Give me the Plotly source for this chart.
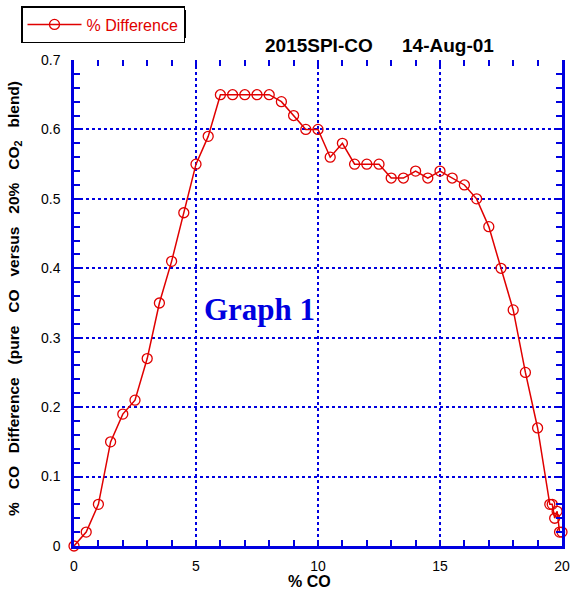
import plotly.graph_objects as go

# Data
pct_co = [0, 0.5, 1, 1.5, 2, 2.5, 3, 3.5, 4, 4.5, 5, 5.5, 6, 6.5, 7, 7.5, 8, 8.5,
          9, 9.5, 10, 10.5, 11, 11.5, 12, 12.5, 13, 13.5, 14, 14.5, 15, 15.5, 16,
          16.5, 17, 17.5, 18, 18.5, 19, 19.5, 19.6, 19.7, 19.8, 19.9, 20]
pct_diff = [0, 0.02, 0.06, 0.15, 0.19, 0.21, 0.27, 0.35, 0.41, 0.48, 0.55, 0.59,
            0.65, 0.65, 0.65, 0.65, 0.65, 0.64, 0.62, 0.60, 0.60, 0.56, 0.58, 0.55,
            0.55, 0.55, 0.53, 0.53, 0.54, 0.53, 0.54, 0.53, 0.52, 0.50, 0.46, 0.40,
            0.34, 0.25, 0.17, 0.06, 0.06, 0.04, 0.05, 0.02, 0.02]
x_ticks = [0, 5, 10, 15, 20]
y_ticks = [0, 0.1, 0.2, 0.3, 0.4, 0.5, 0.6, 0.7]
y_tick_labels = ["0", "0.1", "0.2", "0.3", "0.4", "0.5", "0.6", "0.7"]

BLUE = "#0000e0"
RED = "#e00000"
FONT = "Liberation Sans, Arial, sans-serif"

W, H = 572, 590
L, R, T, B = 74, 10, 60, 44
pw, ph = W - L - R, H - T - B

def px(xp):
    return (xp - L) / pw

def py(yp):
    return (H - B - yp) / ph

fig = go.Figure()
fig.add_trace(go.Scatter(
    x=pct_co, y=pct_diff, mode="lines+markers", name="% Difference",
    line=dict(color=RED, width=1.5),
    marker=dict(symbol="circle-open", size=10, color=RED, line=dict(width=1.3, color=RED)),
    cliponaxis=False,
))
# helper trace so the top tick axis is drawn
fig.add_trace(go.Scatter(x=[0], y=[0], xaxis="x2", mode="markers",
                         marker=dict(opacity=0), showlegend=False, hoverinfo="skip"))

axis_common = dict(
    showline=True, linecolor=BLUE, linewidth=2.5,
    ticks="inside", ticklen=6, tickwidth=1.5, tickcolor=BLUE,
    showgrid=True, gridcolor=BLUE, gridwidth=1.8, griddash="dot",
    zeroline=False, automargin=False,
    tickfont=dict(family=FONT, size=14, color="black"),
)

gap = "&nbsp;&nbsp;&nbsp;"
ytitle = gap.join(["%", "CO", "Difference", "(pure", "CO", "versus", "20%", "CO<sub>2</sub>", "blend)"])

def ann(text, x, y, size, color="black", family=FONT, xref="paper", yref="paper", angle=0):
    return dict(text=text, xref=xref, yref=yref, x=x, y=y, xanchor="center", yanchor="middle",
                textangle=angle, showarrow=False, font=dict(family=family, size=size, color=color))

fig.update_layout(
    width=W, height=H, autosize=False,
    margin=dict(l=L, r=R, t=T, b=B, autoexpand=False),
    paper_bgcolor="white", plot_bgcolor="white",
    showlegend=True,
    legend=dict(
        x=px(21), y=py(6), xanchor="left", yanchor="top",
        bgcolor="white", bordercolor="black", borderwidth=1.5,
        font=dict(family=FONT, size=16, color=RED),
        itemwidth=54,
    ),
    xaxis=dict(
        range=[0, 20], tickvals=x_ticks, mirror=False,
        minor=dict(dtick=1, ticks="inside", ticklen=6, tickwidth=1.5, tickcolor=BLUE, showgrid=False),
        ticklabelstandoff=5,
        **axis_common,
    ),
    xaxis2=dict(
        range=[0, 20], overlaying="x", side="top", tickvals=x_ticks,
        showline=False, showgrid=False, zeroline=False, showticklabels=False, automargin=False,
        ticks="inside", ticklen=6, tickwidth=1.5, tickcolor=BLUE,
        minor=dict(dtick=1, ticks="inside", ticklen=6, tickwidth=1.5, tickcolor=BLUE, showgrid=False),
    ),
    yaxis=dict(
        range=[0, 0.7], tickvals=y_ticks, ticktext=y_tick_labels, mirror="ticks",
        minor=dict(dtick=0.02, ticks="inside", ticklen=6, tickwidth=1.5, tickcolor=BLUE, showgrid=False),
        ticklabelstandoff=8,
        **axis_common,
    ),
    shapes=[
        dict(type="rect", xref="paper", yref="paper",
             x0=px(25), x1=px(186), y0=py(38), y1=py(10),
             fillcolor="black", line=dict(width=0), layer="below"),
    ],
    annotations=[
        ann("<b>2015SPI-CO</b>", px(319), py(45), 19),
        ann("<b>14-Aug-01</b>", px(448), py(45), 19),
        ann("<b>Graph 1</b>", 7.6, 0.34, 31, color=BLUE,
            family="Liberation Serif, Times New Roman, serif", xref="x", yref="y"),
        ann("<b>%&nbsp;CO</b>", px(309), py(581), 16),
        ann("<b>" + ytitle + "</b>", px(14), py(299), 15.5, angle=-90),
    ],
)

fig.write_html("out.html", config={"displayModeBar": False},
               post_script="document.body.style.margin='0';")
